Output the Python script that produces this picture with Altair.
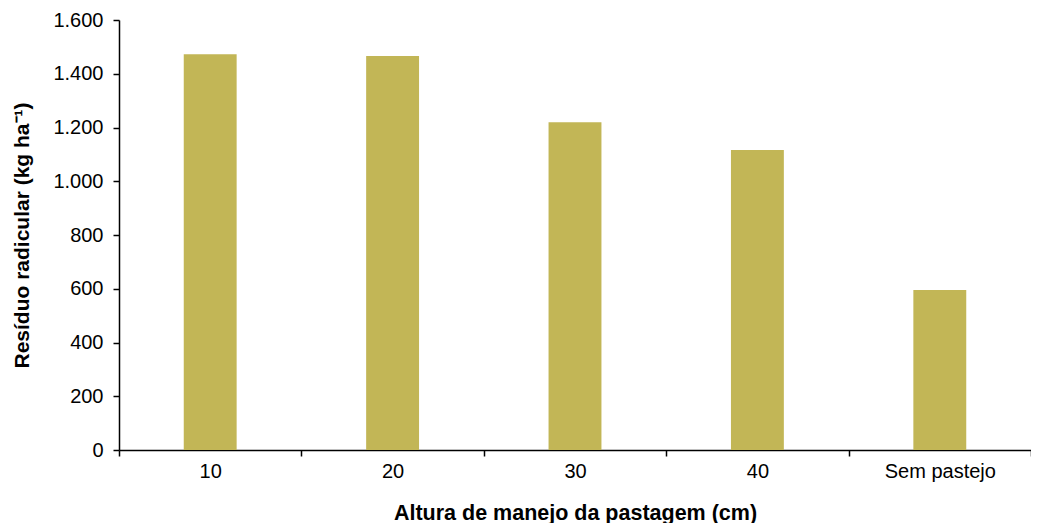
import altair as alt
import pandas as pd

categories = ["10", "20", "30", "40", "Sem pastejo"]
values = [1473, 1466, 1220, 1116, 595]

df = pd.DataFrame({"cat": categories, "val": values})

FONT = "Liberation Sans"

chart = alt.Chart(df).mark_bar(color="#c2b656", width={"band": 0.29}).encode(
    x=alt.X(
        "cat:N",
        sort=categories,
        scale=alt.Scale(paddingInner=0, paddingOuter=0),
        axis=alt.Axis(
            title="Altura de manejo da pastagem (cm)",
            labelAngle=0,
            tickBand="extent",
            tickSize=6,
            labelPadding=5,
            titlePadding=21,
            titleFontSize=21.5,
        ),
    ),
    y=alt.Y(
        "val:Q",
        scale=alt.Scale(domain=[0, 1600]),
        axis=alt.Axis(
            title="Resíduo radicular (kg ha⁻¹)",
            values=[0, 200, 400, 600, 800, 1000, 1200, 1400, 1600],
            labelExpr="replace(format(datum.value, ','), ',', '.')",
            tickSize=6,
            labelPadding=10,
            titlePadding=20,
            titleFontSize=21,
            grid=False,
        ),
    ),
).properties(
    width=912,
    height=430,
    autosize=alt.AutoSizeParams(type="none"),
    padding={"left": 111, "top": 12, "right": 0, "bottom": 73},
).configure_view(
    stroke=None
).configure_axis(
    domainColor="black",
    domainWidth=1.5,
    tickColor="black",
    tickWidth=1.5,
    labelColor="black",
    titleColor="black",
    labelFont=FONT,
    titleFont=FONT,
    labelFontSize=20,
    titleFontWeight="bold",
)

chart.save("out.html", embed_options={"renderer": "svg", "actions": False})
